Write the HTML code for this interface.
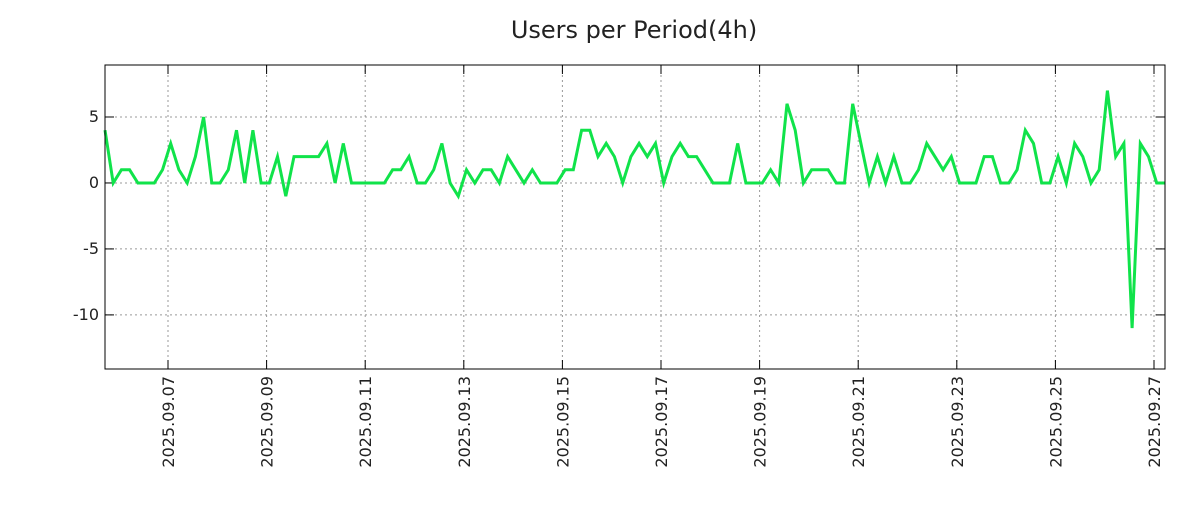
<!DOCTYPE html>
<html><head><meta charset="utf-8"><style>
body{margin:0;background:#fff;}
svg text{font-family:"DejaVu Sans","Liberation Sans",sans-serif;fill:#222;}
</style></head><body>
<svg width="1200" height="500" xmlns="http://www.w3.org/2000/svg">
<text x="634" y="38" font-size="24" text-anchor="middle">Users per Period(4h)</text>
<g id="grid"></g>
<g id="axes"></g>
<polyline id="line" fill="none" stroke="#10e34a" stroke-width="3" stroke-linejoin="miter"/>
<rect x="105" y="65" width="1060" height="304" fill="none" stroke="#000" stroke-width="1"/>
</svg>
<script>
const values=[4,0,1,1,0,0,0,1,3,1,0,2,5,0,0,1,4,0,4,0,0,2,-1,2,2,2,2,3,0,3,0,0,0,0,0,1,1,2,0,0,1,3,0,-1,1,0,1,1,0,2,1,0,1,0,0,0,1,1,4,4,2,3,2,0,2,3,2,3,0,2,3,2,2,1,0,0,0,3,0,0,0,1,0,6,4,0,1,1,1,0,0,6,3,0,2,0,2,0,0,1,3,2,1,2,0,0,0,2,2,0,0,1,4,3,0,0,2,0,3,2,0,1,7,2,3,-11,3,2,0,0];
const yTicks=[5,0,-5,-10];
const dateLabels=["2025.09.07","2025.09.09","2025.09.11","2025.09.13","2025.09.15","2025.09.17","2025.09.19","2025.09.21","2025.09.23","2025.09.25","2025.09.27"];
const dateDays=[7,9,11,13,15,17,19,21,23,25,27];
const X0=105,X1=1165,Y0=65,Y1=369,yMin=-14.1,yMax=8.94;
const startDay=7-63/49.3;
const stepDay=1/6;
const xDay=d=>168+(d-7)*49.3;
const xIdx=i=>xDay(startDay+i*stepDay);
const y=v=>Y1-(v-yMin)/(yMax-yMin)*(Y1-Y0);
const NS="http://www.w3.org/2000/svg";
const grid=document.getElementById('grid'),axes=document.getElementById('axes');
function mk(tag,attrs,parent){const e=document.createElementNS(NS,tag);for(const k in attrs)e.setAttribute(k,attrs[k]);parent.appendChild(e);return e;}
yTicks.forEach(v=>{
  const yy=y(v);
  const g=mk('line',{x1:X0,x2:X1,y1:yy,y2:yy,stroke:'#999','stroke-dasharray':'2,3'},grid);
  
  
  mk('line',{x1:X0,x2:X0+9,y1:yy,y2:yy,stroke:'#000'},axes);
  mk('line',{x1:X1-9,x2:X1,y1:yy,y2:yy,stroke:'#000'},axes);
  const t=mk('text',{x:X0-6,y:yy+5,'font-size':16,'text-anchor':'end'},axes);
  t.textContent=v;
  
  
});
dateDays.forEach((d,k)=>{
  const xx=xDay(d);
  const g=mk('line',{x1:xx,x2:xx,y1:Y0,y2:Y1,stroke:'#999','stroke-dasharray':'2,3'},grid);
  
  
  mk('line',{x1:xx,x2:xx,y1:Y1-9,y2:Y1,stroke:'#000'},axes);
  mk('line',{x1:xx,x2:xx,y1:Y0,y2:Y0+9,stroke:'#000'},axes);
  const t=mk('text',{x:0,y:0,'font-size':16,'text-anchor':'end',transform:`translate(${xx+6},${Y1+7}) rotate(-90)`},axes);
  t.textContent=dateLabels[k];
  
  
});
document.getElementById('line').setAttribute('points',values.map((v,i)=>xIdx(i).toFixed(1)+','+y(v).toFixed(1)).join(' '));
</script>
</body></html>
